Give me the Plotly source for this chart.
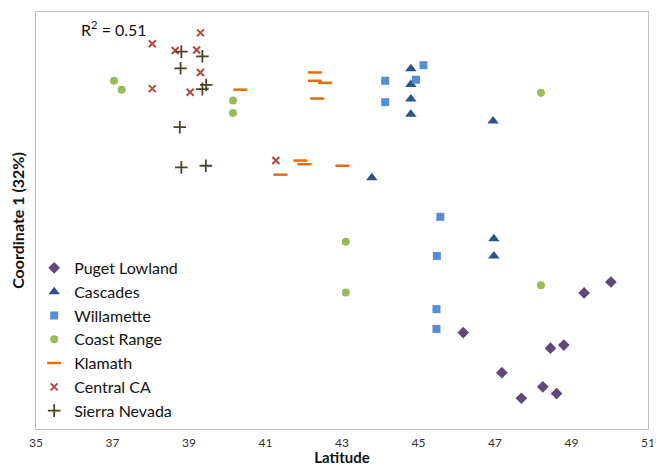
import plotly.graph_objects as go

# Data (latitude, coordinate 1)
puget_lat = [50.03, 49.33, 46.17, 48.45, 48.80, 47.18, 48.25, 48.61, 47.69]
puget_c1 = [-0.118, -0.139, -0.215, -0.245, -0.239, -0.292, -0.319, -0.332, -0.341]

cascades_lat = [44.80, 44.80, 44.80, 44.80, 46.95, 43.78, 46.97, 46.97]
cascades_c1 = [0.291, 0.261, 0.233, 0.204, 0.191, 0.082, -0.035, -0.068]

willamette_lat = [45.13, 44.93, 44.13, 44.13, 45.57, 45.48, 45.47, 45.47]
willamette_c1 = [0.298, 0.270, 0.268, 0.227, 0.007, -0.068, -0.170, -0.208]

coast_lat = [37.04, 37.24, 40.15, 40.15, 43.10, 43.10, 48.20, 48.20]
coast_c1 = [0.268, 0.251, 0.230, 0.206, -0.041, -0.138, -0.124, 0.245]

klamath_lat = [42.29, 42.29, 42.56, 42.35, 41.91, 42.02, 43.01, 41.39, 40.34]
klamath_c1 = [0.284, 0.268, 0.264, 0.234, 0.115, 0.108, 0.105, 0.088, 0.251]

central_lat = [39.30, 38.04, 38.64, 39.20, 39.30, 38.04, 39.03, 41.27]
central_c1 = [0.360, 0.339, 0.326, 0.327, 0.284, 0.253, 0.246, 0.115]

sierra_lat = [38.80, 39.35, 38.78, 39.45, 39.35, 38.76, 38.80, 39.44]
sierra_c1 = [0.324, 0.315, 0.292, 0.260, 0.252, 0.179, 0.102, 0.105]

x_ticks = [35, 37, 39, 41, 43, 45, 47, 49, 51]
r2_text = "R<sup>2</sup> = 0.51"

FONT = "Lato, 'Open Sans', sans-serif"

fig = go.Figure()

def add(name, xs, ys, symbol, color, size, line_w=0, line_color=None):
    marker = dict(symbol=symbol, color=color, size=size)
    if line_w:
        marker["line"] = dict(width=line_w, color=line_color or color)
    else:
        marker["line"] = dict(width=0)
    fig.add_trace(go.Scatter(x=xs, y=ys, mode="markers", name=name, marker=marker))

add("Puget Lowland", puget_lat, puget_c1, "diamond", "#5F497A", 9)
add("Cascades", cascades_lat, cascades_c1, "triangle-up", "#2A5585", 10)
add("Willamette", willamette_lat, willamette_c1, "square", "#558ED5", 8)
add("Coast Range", coast_lat, coast_c1, "circle", "#9BBB59", 8)
add("Klamath", klamath_lat, klamath_c1, "line-ew", "#E46C0A", 10, 2.5)
add("Central CA", central_lat, central_c1, "x-thin", "#B24845", 7, 2)
add("Sierra Nevada", sierra_lat, sierra_c1, "cross-thin", "#4A452A", 9, 1.8)

# page body has an 8px margin, so the figure is sized to fit inside the window
fig.update_layout(
    width=653, height=458,
    margin=dict(l=28, r=13, t=4, b=37, autoexpand=False),
    paper_bgcolor="white", plot_bgcolor="white",
    font=dict(family=FONT, size=13, color="#222222"),
    showlegend=True,
    legend=dict(x=-0.003, y=0.427, xanchor="left", yanchor="top",
                bgcolor="rgba(0,0,0,0)", font=dict(size=16, color="#111111"),
                itemwidth=30, tracegroupgap=0),
    xaxis=dict(range=[35, 51], tickvals=x_ticks, showgrid=False, zeroline=False,
               showline=True, linecolor="#BFBFBF", linewidth=1, mirror=True,
               ticks="", automargin=False, ticklabelstandoff=3,
               tickfont=dict(size=12, color="#333333"),
               title=dict(text="<b>Latitude</b>", font=dict(size=15, color="#111111"), standoff=10)),
    yaxis=dict(range=[-0.4, 0.4], showticklabels=False, showgrid=False, zeroline=False,
               showline=True, linecolor="#BFBFBF", linewidth=1, mirror=True, ticks="",
               automargin=False,
               title=dict(text="<b>Coordinate 1 (32%)</b>", font=dict(size=16, color="#111111"), standoff=16)),
    annotations=[dict(text=r2_text, x=0.07, y=0.99, xref="paper", yref="paper",
                      xanchor="left", yanchor="top", showarrow=False,
                      font=dict(size=16, color="#111111"))],
)

fig.write_html("out.html")
